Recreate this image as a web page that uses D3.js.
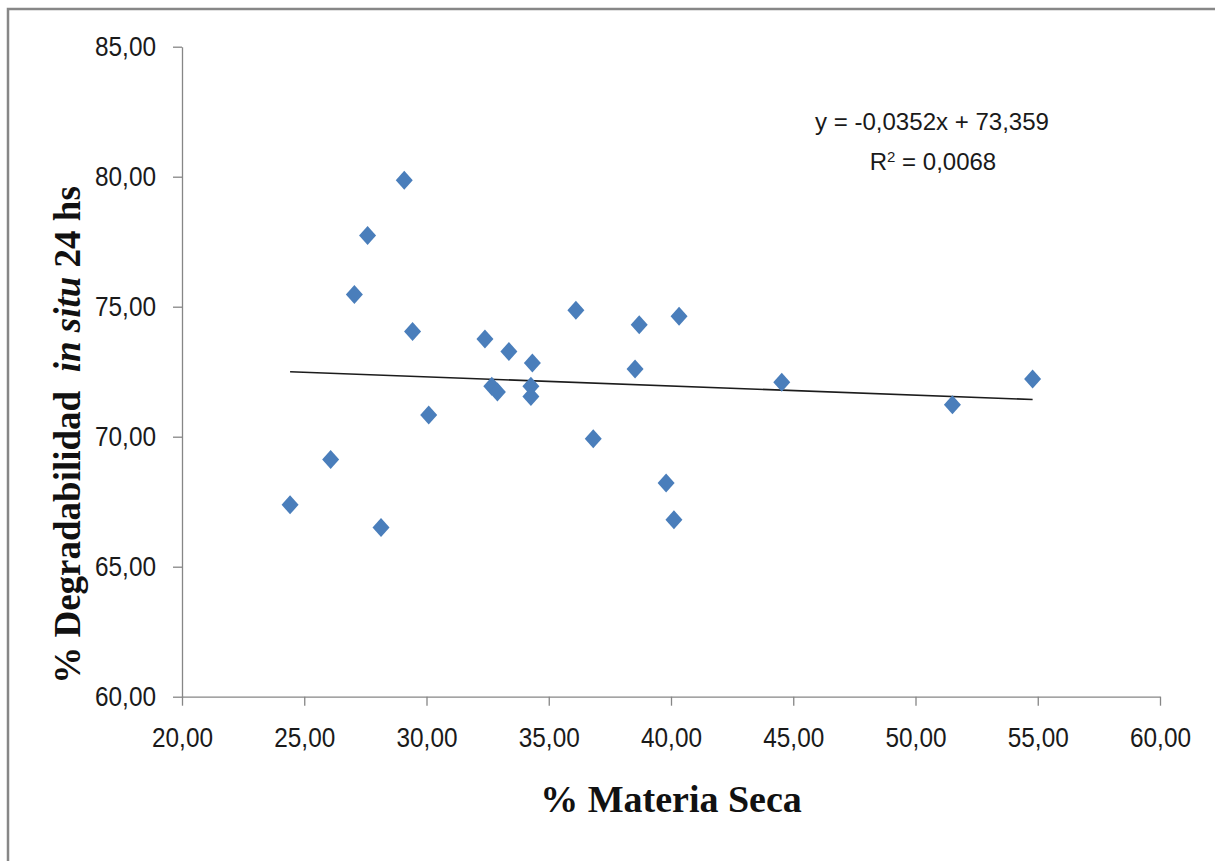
<!DOCTYPE html>
<html>
<head>
<meta charset="utf-8">
<script src="https://cdn.jsdelivr.net/npm/d3@7"></script>
<style>
  html, body { margin: 0; padding: 0; background: #fff; }
  svg { display: block; }
</style>
</head>
<body>
<svg id="chart" width="1215" height="861"></svg>
<script>
// % materia seca (x) vs. degradabilidad in situ a 24 h (y)
const materiaSeca = [24.42, 26.08, 27.05, 27.59, 28.14, 29.09, 29.43, 30.09, 32.39, 32.67,
                     32.90, 33.37, 34.27, 34.27, 34.33, 36.11, 36.82, 38.53, 38.70, 39.80,
                     40.12, 40.33, 44.53, 51.51, 54.79];
const degradabilidad = [67.38, 69.12, 75.47, 77.74, 66.51, 79.86, 74.05, 70.83, 73.76, 71.94,
                        71.72, 73.28, 71.94, 71.55, 72.83, 74.86, 69.92, 72.60, 74.31, 68.22,
                        66.81, 74.63, 72.09, 71.23, 72.22];

// linear trend line
const trendSlope = -0.0352;
const trendIntercept = 73.359;
const trendR2 = 0.0068;

const xTicks = [20, 25, 30, 35, 40, 45, 50, 55, 60];
const yTicks = [60, 65, 70, 75, 80, 85];

const fmt = v => v.toFixed(2).replace('.', ',');
const fmt4 = v => v.toFixed(4).replace('.', ',');
const labelFont = "'Liberation Sans', Arial, sans-serif";
const titleFont = "'Liberation Serif', 'Times New Roman', serif";
const axisColor = '#868686';

const svg = d3.select('#chart');

// outer chart frame
svg.append('rect')
  .attr('x', 8).attr('y', 9)
  .attr('width', 1230).attr('height', 880)
  .attr('fill', 'none')
  .attr('stroke', '#878787')
  .attr('stroke-width', 2.5);

const x = d3.scaleLinear().domain([20, 60]).range([182, 1160]);
const y = d3.scaleLinear().domain([60, 85]).range([696.7, 46.7]);

// axes
const xAxis = svg.append('g')
  .attr('transform', `translate(0,${y(60)})`)
  .call(d3.axisBottom(x).tickValues(xTicks).tickFormat(fmt).tickSize(9).tickSizeOuter(0).tickPadding(21));
const yAxis = svg.append('g')
  .attr('transform', `translate(${x(20)},0)`)
  .call(d3.axisLeft(y).tickValues(yTicks).tickFormat(fmt).tickSize(9).tickSizeOuter(0).tickPadding(17));

[xAxis, yAxis].forEach(g => {
  g.select('.domain').attr('stroke', axisColor).attr('stroke-width', 1.3);
  g.selectAll('.tick line').attr('stroke', axisColor).attr('stroke-width', 1.3);
  g.selectAll('.tick text')
    .attr('fill', '#1a1a1a')
    .attr('textLength', 61).attr('lengthAdjust', 'spacingAndGlyphs')
    .style('font-family', labelFont)
    .style('font-size', '28px');
});

// trend line across the data range
const [xMin, xMax] = d3.extent(materiaSeca);
svg.append('line')
  .attr('x1', x(xMin)).attr('y1', y(trendSlope * xMin + trendIntercept))
  .attr('x2', x(xMax)).attr('y2', y(trendSlope * xMax + trendIntercept))
  .attr('stroke', '#1c1c1c')
  .attr('stroke-width', 1.6);

// diamond markers
const points = materiaSeca.map((v, i) => ({ x: v, y: degradabilidad[i] }));
svg.append('g').selectAll('path')
  .data(points)
  .join('path')
  .attr('d', d => {
    const cx = x(d.x), cy = y(d.y), w = 8.5, h = 9.5;
    return `M${cx},${cy - h}L${cx + w},${cy}L${cx},${cy + h}L${cx - w},${cy}Z`;
  })
  .attr('fill', '#4A7EBB');

// regression equation
svg.append('text')
  .attr('x', 932).attr('y', 130)
  .attr('text-anchor', 'middle')
  .attr('textLength', 234).attr('lengthAdjust', 'spacingAndGlyphs')
  .style('font-family', labelFont).style('font-size', '24px').attr('fill', '#1a1a1a')
  .text(`y = ${fmt4(trendSlope)}x + ${String(trendIntercept).replace('.', ',')}`);
const r2 = svg.append('text')
  .attr('x', 933).attr('y', 170)
  .attr('text-anchor', 'middle')
  .style('font-family', labelFont).style('font-size', '24px').attr('fill', '#1a1a1a');
r2.append('tspan').text('R');
r2.append('tspan').text('2').attr('dy', -8).style('font-size', '15px');
r2.append('tspan').text(` = ${fmt4(trendR2)}`).attr('dy', 8);

// axis titles
svg.append('text')
  .attr('x', 671).attr('y', 812)
  .attr('text-anchor', 'middle')
  .style('font-family', titleFont).style('font-size', '38px').style('font-weight', 'bold')
  .attr('fill', '#111')
  .text('% Materia Seca');

const yt = svg.append('text')
  .attr('transform', 'translate(80,435) rotate(-90)')
  .attr('text-anchor', 'middle')
  .style('font-family', titleFont).style('font-size', '37px').style('font-weight', 'bold')
  .attr('fill', '#111');
yt.append('tspan').text('% Degradabilidad\u00A0 ');
yt.append('tspan').text('in situ').style('font-style', 'italic');
yt.append('tspan').text(' 24 hs');
</script>
</body>
</html>
